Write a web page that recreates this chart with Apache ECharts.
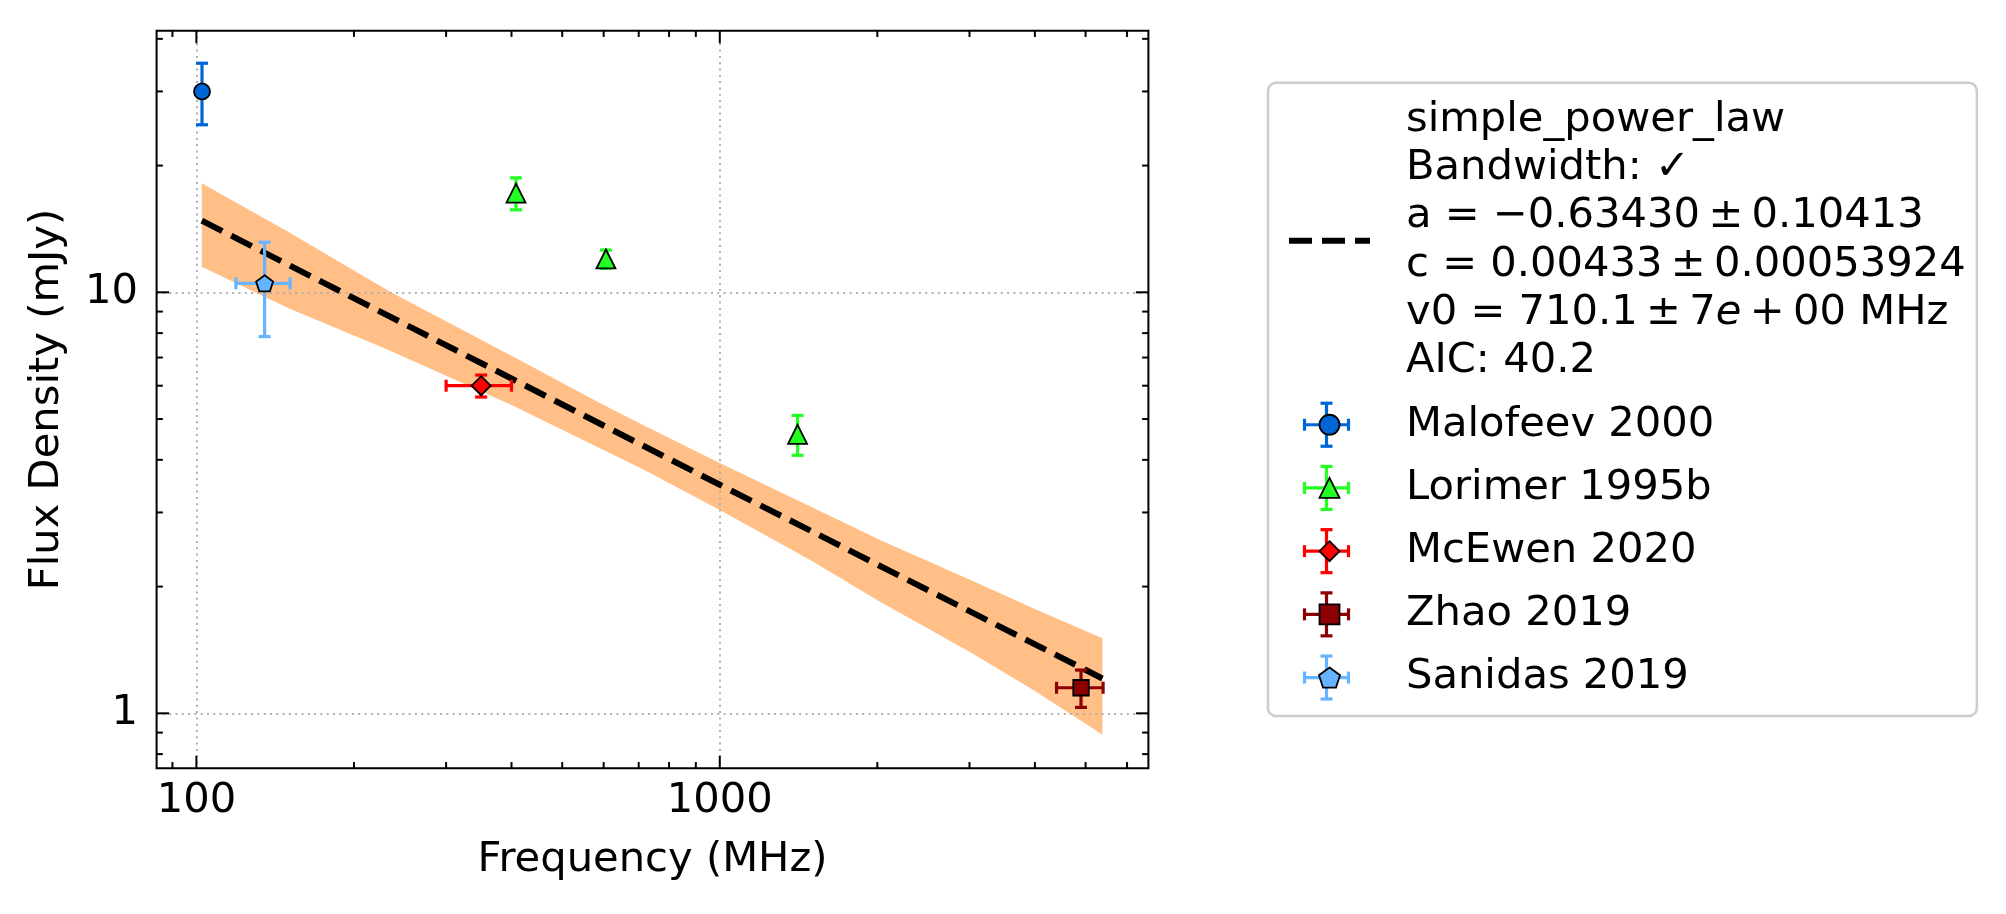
<!DOCTYPE html>
<html>
<head>
<meta charset="utf-8">
<title>Flux density spectrum</title>
<script src="https://cdn.jsdelivr.net/npm/echarts@6/dist/echarts.min.js"></script>
<style>
  html, body { margin: 0; padding: 0; background: #fff; }
  #chart { width: 2006px; height: 914px; }
</style>
</head>
<body>
<div id="chart"></div>
<script>
// axis ranges (log scales) and tick values
const xMin = 83.94, xMax = 6591;
const yMin = 0.7403, yMax = 41.82;
const xMajorTicks = [100, 1000];
const xMinorTicks = [90, 200, 300, 400, 500, 600, 700, 800, 900, 2000, 3000, 4000, 5000, 6000];
const yMajorTicks = [1, 10];
const yMinorTicks = [0.8, 0.9, 2, 3, 4, 5, 6, 7, 8, 9, 20, 30, 40];

// measurements: frequency (MHz), flux density (mJy), half-widths of the error bars
const malofeevFreq = [102.5];
const malofeevFlux = [30.0];
const malofeevFreqErr = [0];
const malofeevFluxErr = [5.0];

const lorimerFreq = [408, 606, 1408];
const lorimerFlux = [17.2, 12.0, 4.6];
const lorimerFreqErr = [0, 0, 0];
const lorimerFluxErr = [1.5, 0.6, 0.5];

const mcewenFreq = [350];
const mcewenFlux = [6.0];
const mcewenFreqErr = [50];
const mcewenFluxErr = [0.36];

const zhaoFreq = [4900];
const zhaoFlux = [1.15];
const zhaoFreqErr = [500];
const zhaoFluxErr = [0.117];

const sanidasFreq = [135];
const sanidasFlux = [10.5];
const sanidasFreqErr = [16];
const sanidasFluxErr = [2.65];

// fitted model and its uncertainty band
const fitFreq = [102.4, 1000, 5383];
const fitFlux = [14.8, 3.49, 1.21];
const bandFreq = [102.4, 150, 234, 400, 590, 710, 1000, 1500, 2024, 3000, 4000, 5383];
const bandUpper = [18.15, 13.9, 10.05, 7.07, 5.46, 4.85, 3.93, 3.085, 2.58, 2.08, 1.77, 1.507];
const bandLower = [11.5, 9.17, 7.27, 5.40, 4.26, 3.81, 3.04, 2.30, 1.84, 1.40, 1.13, 0.891];

const fitName = 'simple_power_law';
const fitLabelLines = [
  'simple_power_law',
  'Bandwidth: \u2713',
  'a = \u22120.63430\u2009\u00b1\u20090.10413',
  'c = 0.00433\u2009\u00b1\u20090.00053924',
  'v0 = 710.1\u2009\u00b1\u20097{it|e}\u2009+\u200900 MHz',
  'AIC: 40.2'
];

const FONT = 'DejaVu Sans';
const FS = 41.67;

// marker shapes as paths so that legend icons keep their aspect ratio
const pentagon = 'path://M0,-1L0.951,-0.309L0.588,0.809L-0.588,0.809L-0.951,-0.309Z';
const triangle = 'path://M0,-1L1,1L-1,1Z';
const diamond = 'path://M0,-1L1,0L0,1L-1,0Z';
const square = 'path://M-1,-1L1,-1L1,1L-1,1Z';

const sources = [
  { name: 'Malofeev 2000', color: '#0066d6', symbol: 'circle', size: 16,
    freq: malofeevFreq, flux: malofeevFlux, freqErr: malofeevFreqErr, fluxErr: malofeevFluxErr },
  { name: 'Lorimer 1995b', color: '#22ff22', symbol: triangle, size: 19,
    freq: lorimerFreq, flux: lorimerFlux, freqErr: lorimerFreqErr, fluxErr: lorimerFluxErr },
  { name: 'McEwen 2020', color: '#ff0000', symbol: diamond, size: 19,
    freq: mcewenFreq, flux: mcewenFlux, freqErr: mcewenFreqErr, fluxErr: mcewenFluxErr },
  { name: 'Zhao 2019', color: '#8b0000', symbol: square, size: 15.5,
    freq: zhaoFreq, flux: zhaoFlux, freqErr: zhaoFreqErr, fluxErr: zhaoFluxErr },
  { name: 'Sanidas 2019', color: '#66b3ff', symbol: pentagon, size: 17,
    freq: sanidasFreq, flux: sanidasFlux, freqErr: sanidasFreqErr, fluxErr: sanidasFluxErr }
];

const CAP = 6;       // half width of an error bar cap
const ERR_W = 3.2;   // error bar line width

function errorBarRenderer(color) {
  return function (params, api) {
    const f = api.value(0), s = api.value(1), fe = api.value(2), se = api.value(3);
    const c = api.coord([f, s]);
    const style = { stroke: color, lineWidth: ERR_W };
    const children = [];
    if (se > 0) {
      const t = api.coord([f, s + se])[1];
      const b = api.coord([f, s - se])[1];
      children.push({ type: 'line', shape: { x1: c[0], y1: t, x2: c[0], y2: b }, style: style });
      children.push({ type: 'line', shape: { x1: c[0] - CAP, y1: t, x2: c[0] + CAP, y2: t }, style: style });
      children.push({ type: 'line', shape: { x1: c[0] - CAP, y1: b, x2: c[0] + CAP, y2: b }, style: style });
    }
    if (fe > 0) {
      const l = api.coord([f - fe, s])[0];
      const r = api.coord([f + fe, s])[0];
      children.push({ type: 'line', shape: { x1: l, y1: c[1], x2: r, y2: c[1] }, style: style });
      children.push({ type: 'line', shape: { x1: l, y1: c[1] - CAP, x2: l, y2: c[1] + CAP }, style: style });
      children.push({ type: 'line', shape: { x1: r, y1: c[1] - CAP, x2: r, y2: c[1] + CAP }, style: style });
    }
    return { type: 'group', children: children };
  };
}

function renderBand(params, api) {
  const pts = [];
  for (let i = 0; i < bandFreq.length; i++) pts.push(api.coord([bandFreq[i], bandUpper[i]]));
  for (let i = bandFreq.length - 1; i >= 0; i--) pts.push(api.coord([bandFreq[i], bandLower[i]]));
  return { type: 'polygon', shape: { points: pts }, style: { fill: 'rgba(255,127,14,0.5)' } };
}

// inward ticks on all four sides, like the original frame
function renderTicks(params, api) {
  const cs = params.coordSys;
  const left = cs.x, right = cs.x + cs.width, top = cs.y, bottom = cs.y + cs.height;
  const children = [];
  function add(x1, y1, x2, y2) {
    children.push({ type: 'line', shape: { x1: x1, y1: y1, x2: x2, y2: y2 }, style: { stroke: '#000', lineWidth: 2 } });
  }
  function xTicks(vals, len) {
    vals.forEach(function (v) {
      const px = api.coord([v, 1])[0];
      add(px, bottom, px, bottom - len);
      add(px, top, px, top + len);
    });
  }
  function yTicks(vals, len) {
    vals.forEach(function (v) {
      const py = api.coord([100, v])[1];
      add(left, py, left + len, py);
      add(right, py, right - len, py);
    });
  }
  xTicks(xMajorTicks, 12.5);
  xTicks(xMinorTicks, 6.25);
  yTicks(yMajorTicks, 12.5);
  yTicks(yMinorTicks, 6.25);
  return { type: 'group', children: children };
}

function isDecade(v) {
  const l = Math.log10(v);
  return Math.abs(l - Math.round(l)) < 1e-6;
}

const series = [
  {
    type: 'custom', name: 'band', z: 0, silent: true,
    renderItem: renderBand,
    data: [[bandFreq[0], bandUpper[0]]]
  },
  {
    type: 'line', name: fitName, z: 2, silent: true,
    data: fitFreq.map(function (f, i) { return [f, fitFlux[i]]; }),
    symbol: 'none',
    lineStyle: { color: '#000', width: 6, type: [23, 10], cap: 'butt' }
  }
];

sources.forEach(function (src) {
  series.push({
    type: 'custom', name: src.name + ' errors', z: 3, silent: true,
    renderItem: errorBarRenderer(src.color),
    encode: { x: 0, y: 1 },
    data: src.freq.map(function (f, i) { return [f, src.flux[i], src.freqErr[i], src.fluxErr[i]]; })
  });
  series.push({
    type: 'scatter', name: src.name, z: 4, silent: true,
    symbol: src.symbol, symbolSize: src.size, symbolKeepAspect: true,
    itemStyle: { color: src.color, borderColor: '#000', borderWidth: 1.8, opacity: 1 },
    data: src.freq.map(function (f, i) { return [f, src.flux[i]]; })
  });
});

series.push({
  type: 'custom', name: 'ticks', z: 5, silent: true,
  renderItem: renderTicks,
  data: [[100, 1]]
});

// legend geometry
const LEG_LEFT = 1268, LEG_TOP = 82.7;
const LEG_PAD = [13.2, 11, 14.2, 18];
const LINE_H = 48.3, ITEM_GAP = 14.9, ICON_W = 81, ICON_H = 20;
const firstItemCenter = LEG_TOP + LEG_PAD[0] + fitLabelLines.length * LINE_H + ITEM_GAP + LINE_H / 2;
const crossX = LEG_LEFT + LEG_PAD[3] + ICON_W / 2;

const legendCrosses = sources.map(function (src, k) {
  const cy = firstItemCenter + k * (LINE_H + ITEM_GAP);
  const st = { stroke: src.color, lineWidth: ERR_W };
  return {
    type: 'group', z: 3, silent: true,
    children: [
      { type: 'line', shape: { x1: crossX, y1: cy - 21.5, x2: crossX, y2: cy + 21.5 }, style: st },
      { type: 'line', shape: { x1: crossX - CAP, y1: cy - 21.5, x2: crossX + CAP, y2: cy - 21.5 }, style: st },
      { type: 'line', shape: { x1: crossX - CAP, y1: cy + 21.5, x2: crossX + CAP, y2: cy + 21.5 }, style: st },
      { type: 'line', shape: { x1: crossX - 22, y1: cy, x2: crossX + 22, y2: cy }, style: st },
      { type: 'line', shape: { x1: crossX - 22, y1: cy - CAP, x2: crossX - 22, y2: cy + CAP }, style: st },
      { type: 'line', shape: { x1: crossX + 22, y1: cy - CAP, x2: crossX + 22, y2: cy + CAP }, style: st }
    ]
  };
});

const chart = echarts.init(document.getElementById('chart'), null, { renderer: 'canvas' });
chart.setOption({
  animation: false,
  backgroundColor: '#fff',
  textStyle: { fontFamily: FONT },
  grid: {
    left: 156.6, right: 857.6, top: 30.7, bottom: 145.7,
    show: true, borderColor: '#000', borderWidth: 2, backgroundColor: 'transparent', z: 10
  },
  xAxis: {
    type: 'log', logBase: 10, min: xMin, max: xMax, z: 1,
    name: 'Frequency (MHz)', nameLocation: 'middle', nameGap: 70.5,
    nameTextStyle: { fontFamily: FONT, fontSize: FS, color: '#000' },
    axisLine: { show: false },
    axisTick: { show: false },
    minorTick: { show: false },
    axisLabel: {
      fontFamily: FONT, fontSize: FS, color: '#000', margin: 12,
      showMinLabel: false, showMaxLabel: false,
      formatter: function (v) { return isDecade(v) ? String(Math.round(v)) : ''; }
    },
    splitLine: {
      show: true, showMinLine: false, showMaxLine: false,
      lineStyle: { color: '#b0b0b0', width: 2, type: [2, 4.3] }
    }
  },
  yAxis: {
    type: 'log', logBase: 10, min: yMin, max: yMax, z: 1,
    name: 'Flux Density (mJy)', nameLocation: 'middle', nameGap: 88, nameRotate: 90,
    nameTextStyle: { fontFamily: FONT, fontSize: FS, color: '#000' },
    axisLine: { show: false },
    axisTick: { show: false },
    minorTick: { show: false },
    axisLabel: {
      fontFamily: FONT, fontSize: FS, color: '#000', margin: 18.6,
      showMinLabel: false, showMaxLabel: false,
      formatter: function (v) { return isDecade(v) ? String(Math.round(v)) : ''; }
    },
    splitLine: {
      show: true, showMinLine: false, showMaxLine: false,
      lineStyle: { color: '#b0b0b0', width: 2, type: [2, 4.3] }
    }
  },
  legend: {
    orient: 'vertical',
    left: LEG_LEFT, top: LEG_TOP,
    padding: LEG_PAD,
    itemGap: ITEM_GAP, itemWidth: ICON_W, itemHeight: ICON_H,
    symbolKeepAspect: true,
    borderColor: '#cccccc', borderWidth: 2.5, borderRadius: 8,
    backgroundColor: 'transparent',
    selectedMode: false,
    textStyle: {
      fontFamily: FONT, fontSize: FS, color: '#000', lineHeight: LINE_H,
      padding: [0, 0, 0, 31],
      rich: { it: { fontFamily: FONT, fontSize: FS, fontStyle: 'italic', color: '#000', lineHeight: LINE_H } }
    },
    formatter: function (name) { return name === fitName ? fitLabelLines.join('\n') : name; },
    data: [
      { name: fitName, itemStyle: { opacity: 0 }, lineStyle: { color: '#000', width: 6, type: [23, 10] } }
    ].concat(sources.map(function (src) {
      return { name: src.name, itemStyle: { borderColor: '#000', borderWidth: 1.8 } };
    }))
  },
  graphic: { elements: legendCrosses },
  series: series
});
</script>
</body>
</html>
